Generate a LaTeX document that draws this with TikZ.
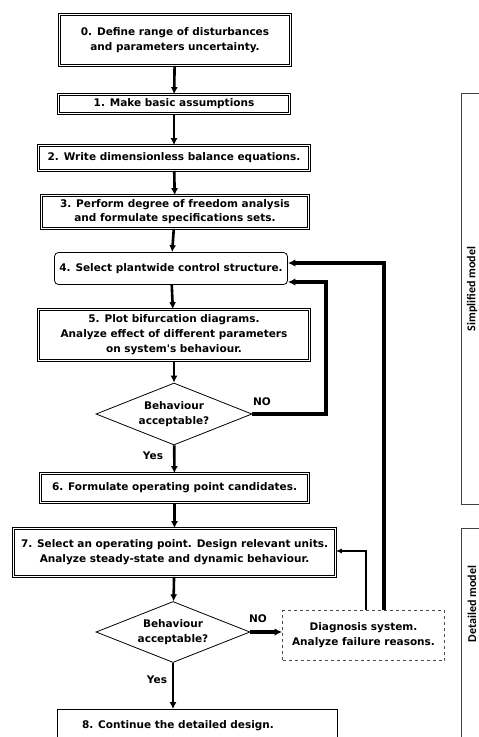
\documentclass[tikz,border=0pt]{standalone}
\usepackage{fontspec}
\usetikzlibrary{shapes.geometric,arrows.meta}
\newfontfamily\bxfont{DejaVu Sans}
\newfontfamily\cbfont{Carlito}
\begin{document}
\begin{tikzpicture}[x=1pt,y=1pt,
  txt/.style={font=\bxfont\bfseries\fontsize{10.5}{15}\selectfont},
  box/.style={txt, draw, line width=0.7pt, double, double distance=1.3pt, align=center, inner sep=0pt},
  sbox/.style={txt, draw, line width=0.8pt, align=center, inner sep=0pt},
  dia/.style={txt, draw, line width=0.8pt, diamond, align=center, inner sep=0pt, aspect=2.5},
  arr/.style={line width=2.6pt, -{Latex[length=7pt,width=7pt]}},
  larr/.style={line width=3.2pt, -{Latex[length=7.5pt,width=7.5pt]}},
  tarr/.style={line width=1.1pt, -{Latex[length=6pt,width=5pt]}},
  brk/.style={line width=0.9pt, draw=black!75},
  side/.style={font=\cbfont\bfseries\fontsize{12}{14}\selectfont, rotate=90}]
\useasboundingbox (0,0) rectangle (479,-737);

\node[box, minimum width=231, minimum height=51] (b0) at (175,-40) {0. Define range of disturbances\\and parameters uncertainty.};
\node[box, minimum width=231, minimum height=19] (b1) at (174,-104) {1. Make basic assumptions};
\node[box, minimum width=271, minimum height=25] (b2) at (174,-158) {2. Write dimensionless balance equations.};
\node[box, minimum width=267, minimum height=33, font=\bxfont\bfseries\fontsize{10.5}{14}\selectfont] (b3) at (175,-212) {3. Perform degree of freedom analysis\\and formulate specifications sets.};
\node[sbox, rounded corners=4pt, minimum width=233, minimum height=32] (b4) at (171,-268.5) {4. Select plantwide control structure.};
\node[box, minimum width=271, minimum height=51] (b5) at (174,-335) {5. Plot bifurcation diagrams.\\Analyze effect of different parameters\\on system's behaviour.};
\node[dia, minimum width=156, minimum height=62] (d1) at (174,-414) {Behaviour\\acceptable?};
\node[box, minimum width=268, minimum height=29] (b6) at (174.5,-488) {6. Formulate operating point candidates.};
\node[box, minimum width=322, minimum height=48] (b7) at (174.5,-552.5) {7. Select an operating point. Design relevant units.\\Analyze steady-state and dynamic behaviour.};
\node[dia, minimum width=154, minimum height=61] (d2) at (173,-632) {Behaviour\\acceptable?};
\node[sbox, dashed, draw=black!70, minimum width=162, minimum height=50] (diag) at (363.5,-635.5) {Diagnosis system.\\Analyze failure reasons.};
\node[draw, line width=0.8pt, minimum width=280, minimum height=41, inner sep=0pt] (b8) at (197.5,-730) {};
\node[txt] (t8) at (178,-726) {8. Continue the detailed design.};

\node[txt] (y1) at (153,-456) {Yes};
\node[txt] (y2) at (157,-680) {Yes};
\node[txt] (n1) at (262,-402) {NO};
\node[txt] (n2) at (258,-619) {NO};

\draw[arr] (b0) -- (b1);
\draw[arr] (b1) -- (b2);
\draw[arr] (b2) -- (b3);
\draw[arr] (b3) -- (b4);
\draw[arr] (b4) -- (b5);
\draw[arr] (b5) -- (d1);
\draw[arr] (d1) -- (b6);
\draw[arr] (b6) -- (b7);
\draw[arr] (b7) -- (d2);
\draw[arr] (d2.south) -- (d2.south |- b8.north);

\coordinate (k1) at (326,-414);
\coordinate (k2) at (326,-282);
\draw[larr] (d1.east) -- (k1) -- (k2) -- (b4.east |- k2);
\coordinate (k3) at (384,-263);
\draw[larr] (diag.north -| k3) -- (k3) -- (b4.east |- k3);
\coordinate (k4) at (366,-551);
\draw[tarr] (diag.north -| k4) -- (k4) -- (b7.east |- k4);
\draw[larr] (d2.east) -- (diag.west |- d2.east);

\coordinate (s1) at (490,-93.5);
\coordinate (s2) at (461.5,-93.5);
\coordinate (s3) at (461.5,-504.5);
\coordinate (s4) at (490,-504.5);
\draw[brk] (s1) -- (s2) -- (s3) -- (s4);
\coordinate (e1) at (490,-528.5);
\coordinate (e2) at (461.5,-528.5);
\coordinate (e3) at (461.5,-750);
\draw[brk] (e1) -- (e2) -- (e3);
\node[side] (ls) at (472,-289) {Simplified model};
\node[side] (ld) at (472,-604) {Detailed model};
\end{tikzpicture}
\end{document}
